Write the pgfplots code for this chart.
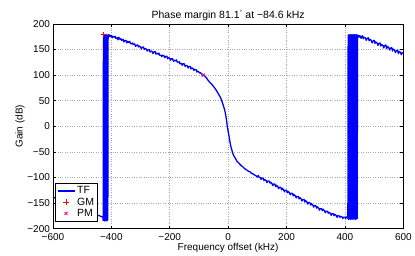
\documentclass[border=0pt]{standalone}
\usepackage{pgfplots}
\pgfplotsset{compat=1.18}
\usepackage{fontspec}
\setmainfont{Liberation Sans}
\begin{document}
\begin{tikzpicture}
\begin{axis}[
  at={(0,0)}, anchor=south west,
  scale only axis, width=351bp, height=205bp,
  xmin=-600, xmax=600, ymin=-200, ymax=200,
  xtick={-600,-400,-200,0,200,400,600},
  xticklabels={−600,−400,−200,0,200,400,600},
  ytick={-200,-150,-100,-50,0,50,100,150,200},
  yticklabels={−200,−150,−100,−50,0,50,100,150,200},
  font=\fontsize{10bp}{11.5bp}\selectfont,
  ticklabel style={font=\fontsize{10bp}{11.5bp}\selectfont},
  xticklabel style={yshift=-1bp},
  yticklabel style={xshift=0.5bp},
  tick align=inside, major tick length=3bp,
  tick style={black, line width=0.5pt},
  axis line style={black, line width=0.8pt},
  grid=major,
  major grid style={gray!70, dotted, line width=0.5pt},
  xlabel={Frequency offset (kHz)},
  ylabel={Gain (dB)},
  xlabel style={yshift=4bp},
  ylabel style={yshift=-4bp},
  title={Phase margin 81.1\textsuperscript{\fontsize{6bp}{6bp}\selectfont °} at −84.6 kHz},
  title style={yshift=-6bp, font=\fontsize{10.5bp}{12bp}\selectfont},
  legend style={at={(0.006,0.034)}, anchor=south west, draw=black, line width=0.8pt,
    font=\fontsize{10.5bp}{12bp}\selectfont, inner sep=1.5pt, row sep=-1.5pt},
  legend cell align=left,
]
\addplot[blue, line width=1.3pt, line join=round] coordinates {
(-600,-138) (-590,-141) (-580,-142) (-570,-146) (-560,-147) (-550,-150) (-540,-152) (-530,-155) (-520,-156) (-510,-159) (-500,-160) (-490,-163) (-480,-165) (-470,-168) (-460,-170) (-450,-173) (-440,-175) (-428,-178)
(-428,-184) (-427,179) (-426,-182) (-425,178) (-424,-185) (-423,179) (-422,-183) (-421,178) (-420,-184) (-419,179) (-418,-181) (-417,178) (-416,-185) (-415,179) (-414,-182) (-413,178) (-412,-183) (-411,178)
(-408,179) (-405,175) (-402,178) (-400,177) (-397,173) (-395,176) (-390,174) (-387,176) (-385,172) (-380,173) (-377,169) (-375,174) (-370,170) (-367,171) (-365,168) (-360,170) (-357,165) (-355,167) (-350,168) (-347,163) (-345,166) (-340,164) (-337,166) (-335,162) (-330,161) (-327,163) (-325,160) (-320,161) (-317,156) (-315,158) (-310,159) (-307,155) (-305,157) (-300,155) (-297,151) (-295,154) (-290,155) (-287,150) (-285,152) (-280,151) (-277,147) (-275,149) (-270,150) (-267,145) (-265,147) (-260,146) (-257,142) (-255,145) (-250,146) (-247,141) (-245,143) (-240,141) (-237,143) (-235,139) (-230,139) (-227,136) (-225,139) (-220,138) (-217,134) (-215,136) (-210,137) (-207,132) (-205,134) (-200,133) (-197,129) (-195,132) (-190,132) (-187,127) (-185,129) (-180,128) (-177,130) (-175,126) (-170,125) (-167,126) (-165,122) (-160,123) (-157,119) (-155,122) (-150,122) (-147,117) (-145,119) (-140,118) (-137,114) (-135,117) (-130,117) (-127,112) (-125,114) (-120,113) (-117,109) (-115,111) (-110,111) (-107,106) (-105,108) (-100,106) (-97,104) (-95,105) (-90,102) (-87,100) (-84.6,100)
(-80,98) (-75,95) (-70,91) (-63,86) (-56,82) (-50,78) (-45,74) (-40,70) (-35,65) (-30,60) (-26,56) (-23,52) (-19,45) (-15,38) (-12,32) (-10,27) (-8,21) (-6,14) (-4,5) (-3,0) (-1,-6) (0,-10) (2,-16) (3,-19) (5,-26) (6,-30) (8,-36) (10,-41) (12,-45) (15,-51) (18,-56) (22,-60) (26,-64) (30,-68) (35,-71) (40,-74) (45,-77) (50,-79) (55,-82) (60,-84) (65,-86) (70,-88) (75,-89) (80,-92) (85,-93) (90,-95) (96,-97)
(100,-99) (103,-96) (105,-99) (110,-100) (113,-104) (115,-101) (120,-102) (123,-106) (125,-104) (130,-106) (133,-110) (135,-107) (140,-107) (143,-111) (145,-109) (150,-112) (153,-116) (155,-113) (160,-113) (163,-118) (165,-115) (170,-118) (173,-122) (175,-119) (180,-119) (183,-124) (185,-121) (190,-124) (193,-128) (195,-125) (200,-125) (203,-130) (205,-127) (210,-130) (213,-134) (215,-131) (220,-131) (223,-136) (225,-133) (230,-136) (233,-140) (235,-137) (240,-137) (243,-142) (245,-139) (250,-142) (253,-146) (255,-143) (260,-143) (263,-148) (265,-145) (270,-148) (273,-152) (275,-149) (280,-149) (283,-154) (285,-151) (290,-154) (293,-158) (295,-155) (300,-155) (303,-160) (305,-157) (310,-160) (313,-164) (315,-161) (320,-161) (323,-165) (325,-162) (330,-165) (333,-169) (335,-166) (340,-166) (343,-170) (345,-168) (350,-170) (353,-174) (355,-171) (360,-171) (363,-175) (365,-172) (370,-174) (373,-178) (375,-175) (380,-175) (383,-178) (385,-176) (390,-177) (393,-180) (395,-178) (400,-178) (403,-180) (405,-177) (409,-178)
(410,-180) (411,178) (412,-182) (413,179) (414,-179) (415,178) (416,-181) (417,179) (418,-180) (419,178) (420,-182) (421,179) (422,-179) (423,178) (424,-181) (425,179) (426,-180) (427,178) (428,-182) (429,179) (430,-179) (431,178) (432,-181) (433,179) (434,-180) (435,178) (436,-182) (437,179) (438,-179) (439,178) (440,-181) (441,179) (442,-180) (443,178)
(445,178) (448,174) (450,177) (453,176) (455,172) (460,177) (463,171) (465,174) (470,173) (473,168) (475,171) (480,173) (483,167) (485,170) (490,168) (493,163) (495,166) (500,168) (503,162) (505,165) (510,163) (513,158) (515,161) (520,163) (523,157) (525,160) (530,158) (533,153) (535,157) (540,159) (543,152) (545,156) (550,154) (553,149) (555,152) (560,154) (563,147) (565,151) (570,149) (573,144) (575,147) (580,149) (583,142) (585,146) (590,145) (593,140) (595,143) (600,144)
};
\addlegendentry{TF}
\addplot[only marks, color=red, mark=+, mark size=2.8pt, mark options={draw=red, line width=0.8pt}] coordinates {(-426,179)};
\addlegendentry{GM}
\addplot[only marks, color=magenta, mark=x, mark size=2.2pt, mark options={draw=magenta, line width=0.8pt}] coordinates {(-84.6,100)};
\addlegendentry{PM}
\end{axis}
\useasboundingbox (-53bp,-26bp) rectangle (362bp,229bp);
\end{tikzpicture}
\end{document}
